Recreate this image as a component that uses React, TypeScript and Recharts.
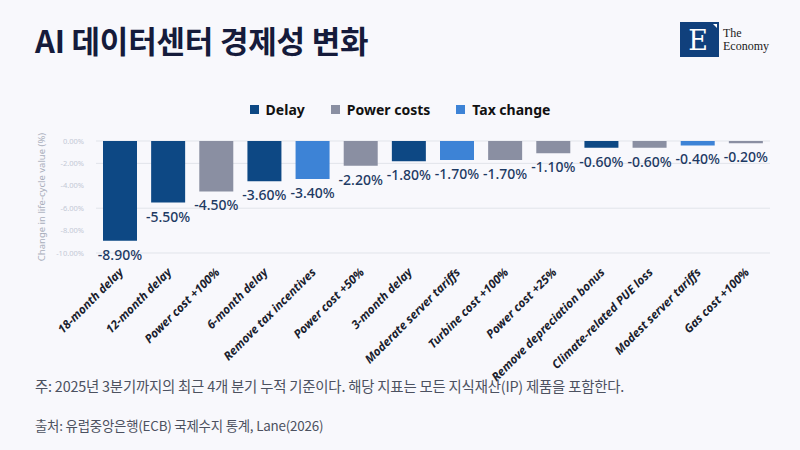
import { BarChart, Bar, XAxis, YAxis, CartesianGrid, Legend, Cell, LabelList } from 'recharts';

const CATEGORIES = [
  '18-month delay',
  '12-month delay',
  'Power cost +100%',
  '6-month delay',
  'Remove tax incentives',
  'Power cost +50%',
  '3-month delay',
  'Moderate server tariffs',
  'Turbine cost +100%',
  'Power cost +25%',
  'Remove depreciation bonus',
  'Climate-related PUE loss',
  'Modest server tariffs',
  'Gas cost +100%',
];
const VALUES = [-8.9, -5.5, -4.5, -3.6, -3.4, -2.2, -1.8, -1.7, -1.7, -1.1, -0.6, -0.6, -0.4, -0.2];
const GROUPS = ['delay', 'delay', 'power', 'delay', 'tax', 'power', 'delay', 'tax', 'power', 'power', 'delay', 'power', 'tax', 'power'];
const Y_TICKS = [0, -2, -4, -6, -8, -10];
const LEGEND_ITEMS = [
  { key: 'delay', label: 'Delay' },
  { key: 'power', label: 'Power costs' },
  { key: 'tax', label: 'Tax change' },
];

const COLORS: Record<string, string> = {
  delay: '#0d4884',
  power: '#8a8fa2',
  tax: '#3d83d6',
};

const FONT = '"Noto Sans", "Noto Sans CJK KR", sans-serif';
const KR_FONT = '"Noto Sans CJK KR", "Noto Sans", sans-serif';

const chartData = CATEGORIES.map((name, i) => ({ name, value: VALUES[i], group: GROUPS[i] }));

function CategoryTick({ x, y, payload }: any) {
  return (
    <g transform={`translate(${x + 4},${y + 12})`}>
      <text
        textAnchor="end"
        transform="rotate(-45)"
        fontSize={11.8}
        fontWeight={700}
        fontStyle="italic"
        fontFamily={FONT}
        fill="#1b1e2e"
      >
        {payload.value}
      </text>
    </g>
  );
}

function ValueLabel({ x, y, width, height, value }: any) {
  if (value == null) return null;
  const bottom = Math.max(Number(y), Number(y) + Number(height));
  return (
    <text
      x={Number(x) + Number(width) / 2}
      y={bottom + 19}
      textAnchor="middle"
      fontSize={14}
      fontWeight={500}
      fontFamily={FONT}
      fill="#1d3a63"
    >
      {`${Number(value).toFixed(2)}%`}
    </text>
  );
}

function LegendContent() {
  return (
    <div style={{ display: 'flex', justifyContent: 'center', gap: 26, fontFamily: FONT }}>
      {LEGEND_ITEMS.map((item) => (
        <div key={item.key} style={{ display: 'flex', alignItems: 'center', gap: 7 }}>
          <span style={{ width: 9, height: 9, background: COLORS[item.key], display: 'inline-block' }} />
          <span style={{ fontSize: 14, fontWeight: 700, color: '#111' }}>{item.label}</span>
        </div>
      ))}
    </div>
  );
}

function Logo() {
  return (
    <div style={{ position: 'absolute', left: 680, top: 22, display: 'flex', alignItems: 'center' }}>
      <svg width={39} height={35}>
        <rect x={0} y={0} width={39} height={35} fill="#10407c" />
        <polygon points="33,2 37,2 37,6" fill="#fff" />
        <text x={18} y={28} textAnchor="middle" fontSize={27} fontFamily='"DejaVu Serif", "Liberation Serif", serif' fill="#fff">
          E
        </text>
      </svg>
      <div style={{ marginLeft: 4, fontFamily: '"Liberation Serif", "DejaVu Serif", serif', fontSize: 12, lineHeight: '13px', color: '#1a1a1a' }}>
        <div>The</div>
        <div>Economy</div>
      </div>
    </div>
  );
}

export default function App() {
  return (
    <div style={{ position: 'fixed', left: 0, top: 0, width: 800, height: 450, background: '#f8f8fc', overflow: 'hidden' }}>
      <div style={{ position: 'absolute', left: 35, top: 17, fontFamily: KR_FONT, fontSize: 31, fontWeight: 700, color: '#151b3b', letterSpacing: -0.2 }}>
        AI 데이터센터 경제성 변화
      </div>
      <Logo />
      <div style={{ position: 'absolute', left: 0, top: 0 }}>
        <BarChart width={800} height={450} data={chartData} margin={{ top: 122, right: 30, bottom: 67, left: 36 }}>
          <CartesianGrid vertical={false} stroke="#e1e4ea" />
          <XAxis
            dataKey="name"
            interval={0}
            height={130}
            tickLine={false}
            axisLine={false}
            tick={<CategoryTick />}
          />
          <YAxis
            type="number"
            domain={[-10, 0]}
            ticks={Y_TICKS}
            width={60}
            tickLine={false}
            axisLine={false}
            tickMargin={6}
            tickFormatter={(v: number) => `${v.toFixed(2)}%`}
            tick={{ fontSize: 7.5, fill: '#c4c9d6', fontFamily: FONT }}
            label={{
              value: 'Change in life-cycle value (%)',
              angle: -90,
              position: 'insideLeft',
              offset: 6,
              style: { fontSize: 9.5, fill: '#a9aebb', fontFamily: FONT, textAnchor: 'middle' },
            } as never}
          />
          <Legend verticalAlign="top" content={<LegendContent />} wrapperStyle={{ top: 100, left: 0, width: 800 }} />
          <Bar dataKey="value" barSize={34} isAnimationActive={false}>
            {chartData.map((d) => (
              <Cell key={d.name} fill={COLORS[d.group]} />
            ))}
            <LabelList dataKey="value" content={<ValueLabel />} />
          </Bar>
        </BarChart>
      </div>
      <div style={{ position: 'absolute', left: 35, top: 375, fontFamily: KR_FONT, fontSize: 14.4, color: '#4c5160', letterSpacing: -0.2 }}>
        주: 2025년 3분기까지의 최근 4개 분기 누적 기준이다. 해당 지표는 모든 지식재산(IP) 제품을 포함한다.
      </div>
      <div style={{ position: 'absolute', left: 35, top: 415, fontFamily: KR_FONT, fontSize: 13.4, color: '#4c5160', letterSpacing: -0.2 }}>
        출처: 유럽중앙은행(ECB) 국제수지 통계, Lane(2026)
      </div>
    </div>
  );
}
